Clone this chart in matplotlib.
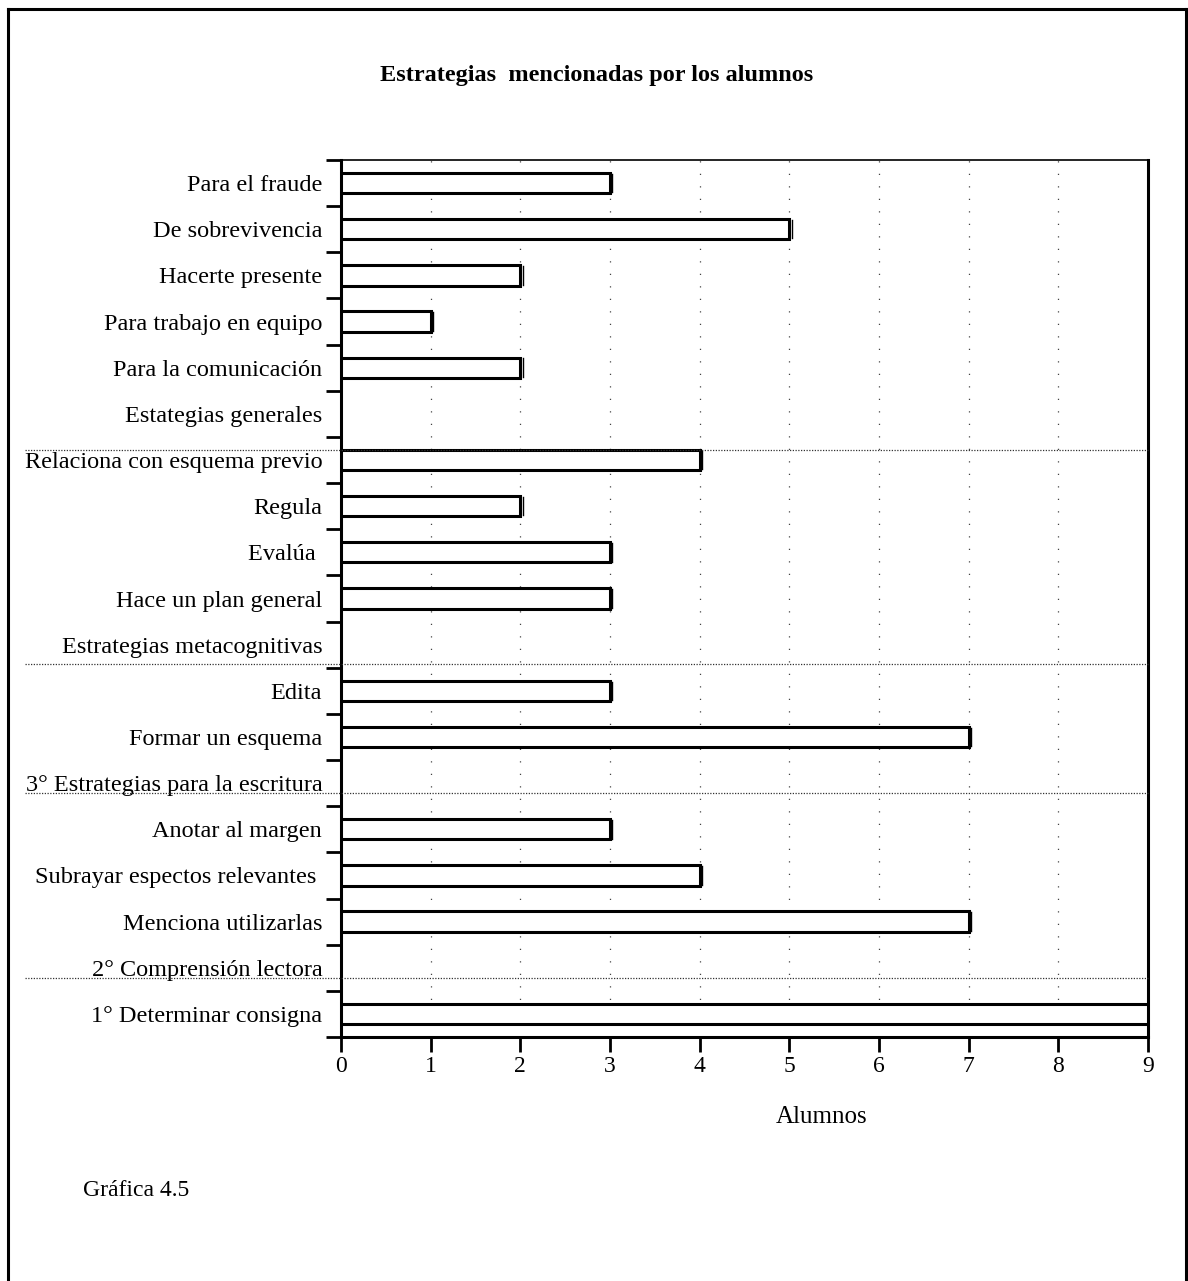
import matplotlib
matplotlib.use("Agg")
import matplotlib.pyplot as plt
from matplotlib.lines import Line2D
from matplotlib.transforms import blended_transform_factory

plt.rcParams["font.family"] = ["Liberation Serif", "DejaVu Serif"]

# Strategies mentioned by students (top to bottom as displayed)
categories = [
    "Para el fraude",
    "De sobrevivencia",
    "Hacerte presente",
    "Para trabajo en equipo",
    "Para la comunicación",
    "Estategias generales",
    "Relaciona con esquema previo",
    "Regula",
    "Evalúa ",
    "Hace un plan general",
    "Estrategias metacognitivas",
    "Edita",
    "Formar un esquema",
    "3° Estrategias para la escritura",
    "Anotar al margen",
    "Subrayar espectos relevantes ",
    "Menciona utilizarlas",
    "2° Comprensión lectora",
    "1° Determinar consigna",
]
alumnos = [3, 5, 2, 1, 2, 0, 4, 2, 3, 3, 0, 3, 7, 0, 3, 4, 7, 0, 9]
x_ticks = [0, 1, 2, 3, 4, 5, 6, 7, 8, 9]

W, H = 1188, 1281
fig = plt.figure(figsize=(W / 100, H / 100), dpi=100)
fig.patch.set_facecolor("white")

left, right, top, bottom = 341, 1148, 160, 1037
ax = fig.add_axes([left / W, 1 - bottom / H, (right - left) / W, (bottom - top) / H])

n = len(categories)
ypos = list(range(n))
bars = [(y, v) for y, v in zip(ypos, alumnos) if v > 0]
ax.barh([b[0] for b in bars], [b[1] for b in bars], height=0.44,
        color="white", edgecolor="black", linewidth=2.2, zorder=3)
# thin shadow stroke at bar ends
for y, v in bars:
    if v < 9:
        ax.plot([v + 0.025, v + 0.025], [y - 0.2, y + 0.2], color="black", lw=1.0, zorder=3)

ax.set_xlim(0, 9)
ax.set_ylim(n - 0.5, -0.5)

ax.set_xticks(x_ticks)
ax.set_xticklabels([str(t) for t in x_ticks], fontsize=17)
ax.tick_params(axis="x", direction="out", length=11, width=2, pad=3)

ax.set_yticks(ypos)
ax.set_yticklabels(categories, fontsize=17.5)
ax.tick_params(axis="y", which="major", length=0, pad=13.5)
ax.set_yticks([i + 0.5 for i in range(-1, n)], minor=True)
ax.tick_params(axis="y", which="minor", direction="out", length=11, width=2)

for s in ["left", "bottom", "right"]:
    ax.spines[s].set_linewidth(2.2)
ax.spines["top"].set_linewidth(1.2)

# sparse dotted vertical guides
for xv in x_ticks[1:-1]:
    ax.axvline(xv, color="#444444", lw=0.9, linestyle=(0, (1, 9)), zorder=1)

# dotted separators between strategy groups
trans = blended_transform_factory(fig.transFigure, ax.transData)
for ysep in [5.78, 10.42, 13.21, 17.22]:
    fig.add_artist(Line2D([25 / W, right / W], [ysep, ysep], transform=trans,
                          color="#333333", lw=0.9, linestyle=(0, (1, 1.2))))

fig.text(597 / W, 1 - 75 / H, "Estrategias  mencionadas por los alumnos",
         ha="center", va="center", fontsize=17.5, fontweight="bold")
fig.text(822 / W, 1 - 1117 / H, "Alumnos", ha="center", va="center", fontsize=18)
fig.text(83 / W, 1 - 1190 / H, "Gráfica 4.5", ha="left", va="center", fontsize=17)

# page frame
frame = dict(color="black", lw=2.2, transform=fig.transFigure)
fig.add_artist(Line2D([8 / W, 8 / W], [0, 1 - 9 / H], **frame))
fig.add_artist(Line2D([8 / W, 1186 / W], [1 - 9 / H, 1 - 9 / H], **frame))
fig.add_artist(Line2D([1186 / W, 1186 / W], [0, 1 - 9 / H], **frame))

fig.savefig("out.png", dpi=100)
